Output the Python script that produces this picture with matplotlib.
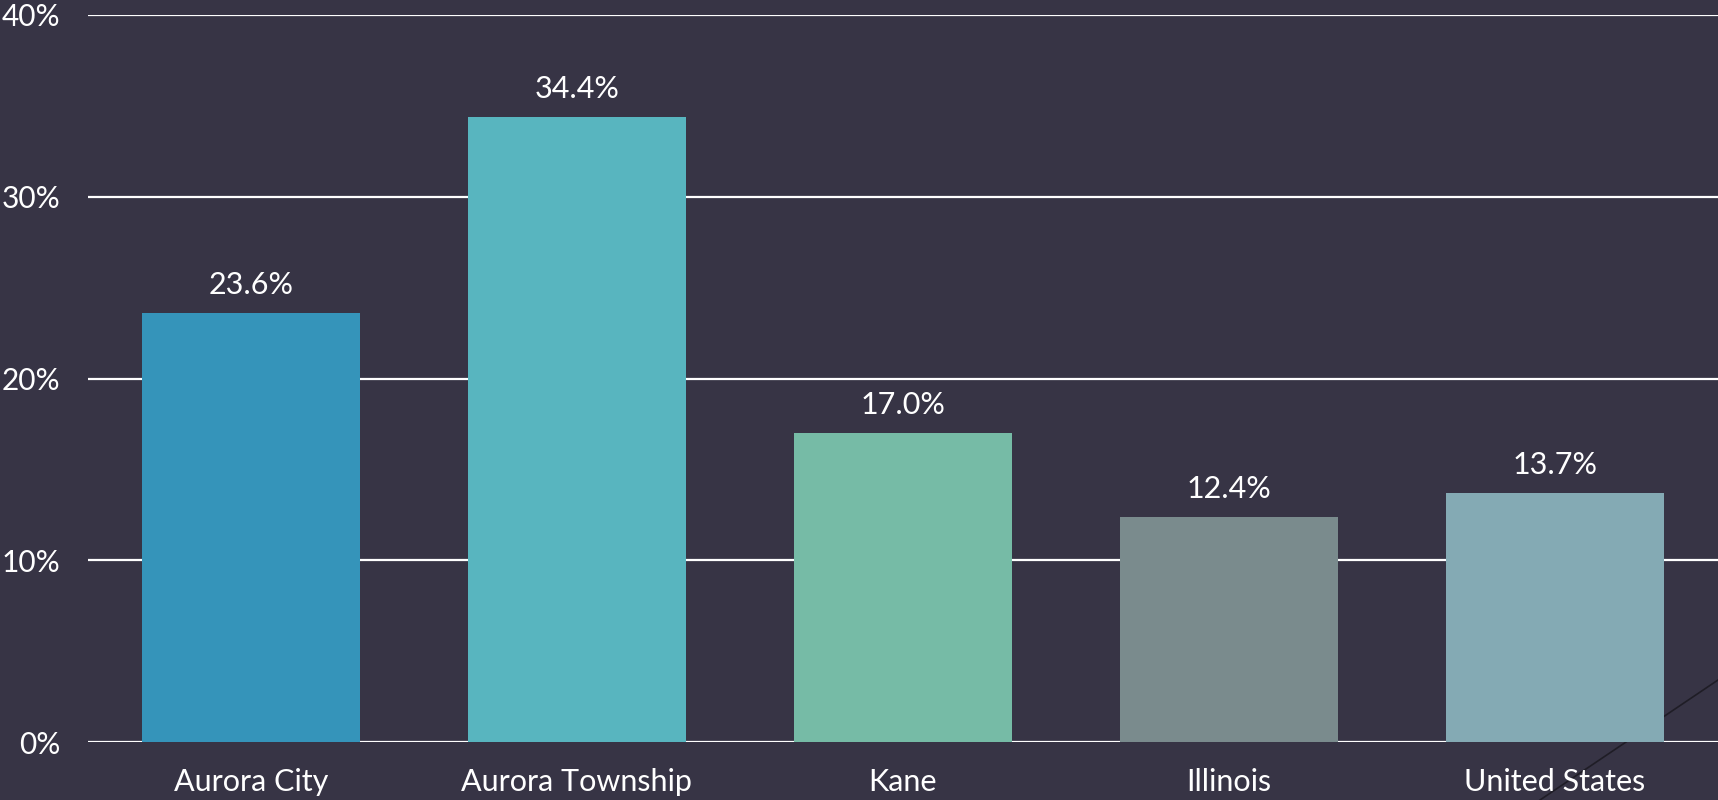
import matplotlib.pyplot as plt
from matplotlib.lines import Line2D

places = ["Aurora City", "Aurora Township", "Kane", "Illinois", "United States"]
shares = [23.6, 34.4, 17.0, 12.4, 13.7]
bar_colors = ["#3594ba", "#58b5bf", "#76bba6", "#7a8b8d", "#84aab4"]
y_ticks = [0, 10, 20, 30, 40]
y_labels = ["0%", "10%", "20%", "30%", "40%"]

bg = "#373445"
plt.rcParams['font.family'] = ['Lato', 'DejaVu Sans']

fig = plt.figure(figsize=(17.18, 8), dpi=100, facecolor=bg)
ax = fig.add_axes([0.0512, 0.0725, 0.9488, 0.90875])
ax.set_facecolor(bg)

# thin decorative stroke in the bottom-right corner, behind everything
fig.add_artist(Line2D([1540 / 1718, 1.0], [0.0, 120 / 800], transform=fig.transFigure,
                      color="#1f1d26", linewidth=1.2, zorder=0))
ax.patch.set_alpha(0)

x = range(len(places))
ax.bar(x, shares, width=0.67, color=bar_colors, zorder=3)

for xi, v in zip(x, shares):
    ax.annotate(f"{v:.1f}%", (xi, v), xytext=(0, 10), textcoords="offset points",
                ha="center", va="bottom", color="white", fontsize=22)

ax.set_xlim(-0.5, 4.5)
ax.set_ylim(0, 40)
ax.set_yticks(y_ticks)
ax.set_yticklabels(y_labels)
ax.set_xticks(list(x))
ax.set_xticklabels(places)
ax.tick_params(axis="both", length=0, colors="white", labelsize=22)
ax.tick_params(axis="y", pad=20, labelsize=21.5)
ax.tick_params(axis="x", pad=19)
ax.yaxis.grid(True, color="white", linewidth=1.6, zorder=1)
ax.set_axisbelow(True)
for s in ax.spines.values():
    s.set_visible(False)

fig.savefig("out.png", dpi=100, facecolor=bg)
